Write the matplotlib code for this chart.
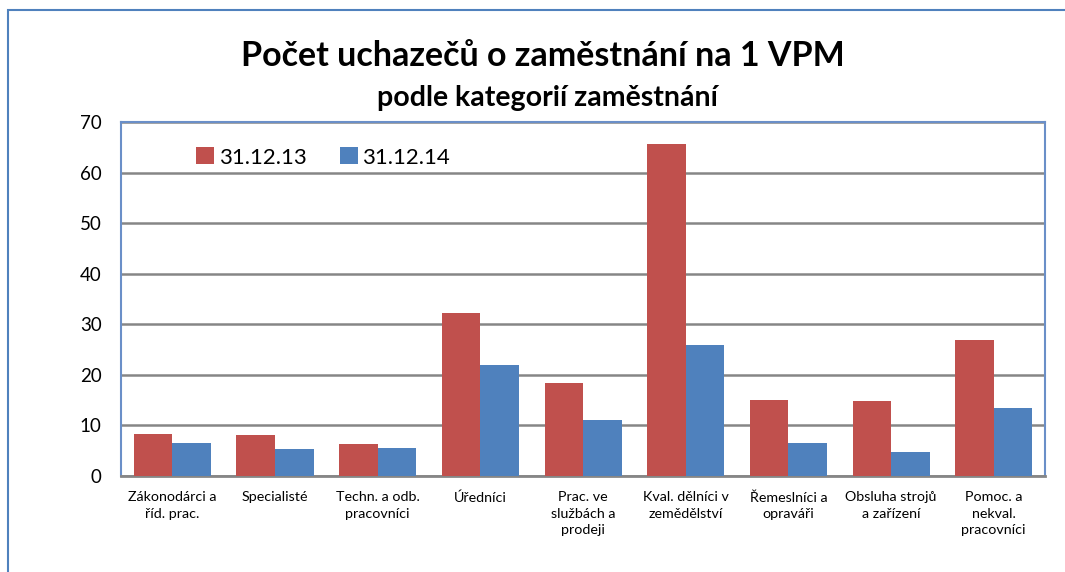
import matplotlib
matplotlib.use('Agg')
import matplotlib.pyplot as plt
import numpy as np
from matplotlib.patches import Rectangle

# data
categories = ['Zákonodárci a\nříd. prac.', 'Specialisté', 'Techn. a odb.\npracovníci',
              'Úředníci', 'Prac. ve\nslužbách a\nprodeji', 'Kval. dělníci v\nzemědělství',
              'Řemeslníci a\nopraváři', 'Obsluha strojů\na zařízení', 'Pomoc. a\nnekval.\npracovníci']
values_2013 = [8.4, 8.2, 6.3, 32.3, 18.4, 65.7, 15.1, 14.8, 26.9]
values_2014 = [6.6, 5.3, 5.5, 21.9, 11.1, 25.9, 6.5, 4.7, 13.4]
series_names = ['31.12.13', '31.12.14']
yticks = [0, 10, 20, 30, 40, 50, 60, 70]

plt.rcParams['font.family'] = ['Lato', 'DejaVu Sans']

W, H = 1065, 572
fig = plt.figure(figsize=(W / 100, H / 100), dpi=100)

# outer chart frame (only top and left edges visible in the crop)
fig.patches.append(Rectangle((8 / W, -0.1), 1.2, 1 - 10 / H + 0.1, transform=fig.transFigure,
                             fill=False, edgecolor='#4F81BD', linewidth=1.5))

ax = fig.add_axes([121 / W, 1 - 476 / H, (1045 - 121) / W, (476 - 122) / H])

x = np.arange(len(categories))
bw = 0.375
ax.bar(x - bw / 2, values_2013, bw, color='#C0504D', label=series_names[0], zorder=3)
ax.bar(x + bw / 2, values_2014, bw, color='#4F81BD', label=series_names[1], zorder=3)

ax.set_xlim(-0.5, len(categories) - 0.5)
ax.set_ylim(0, 70)
ax.set_yticks(yticks)
ax.set_yticklabels([str(t) for t in yticks], fontsize=13.5)
ax.set_xticks(x)
ax.set_xticklabels(categories, fontsize=10.3, linespacing=1.45, va='top')
ax.tick_params(axis='both', length=0)
ax.tick_params(axis='y', pad=14)
ax.tick_params(axis='x', pad=11)
ax.grid(axis='y', color='#868686', linewidth=1.8, zorder=1)

for side in ['left', 'right', 'top']:
    ax.spines[side].set_color('#6A8FC8')
    ax.spines[side].set_linewidth(1.5)
ax.spines['bottom'].set_color('#868686')
ax.spines['bottom'].set_linewidth(2)

leg = ax.legend(loc='upper left', bbox_to_anchor=(0.06, 0.985), ncol=2, frameon=False,
                fontsize=16, handlelength=0.8, handleheight=0.8, handletextpad=0.2,
                columnspacing=1.5)

fig.text(543 / W, 1 - 56 / H, 'Počet uchazečů o zaměstnání na 1 VPM', ha='center', va='center',
         fontsize=24.5, fontweight='bold')
fig.text(547 / W, 1 - 98 / H, 'podle kategorií zaměstnání', ha='center', va='center',
         fontsize=20.5, fontweight='bold')

fig.savefig('out.png', dpi=100)
